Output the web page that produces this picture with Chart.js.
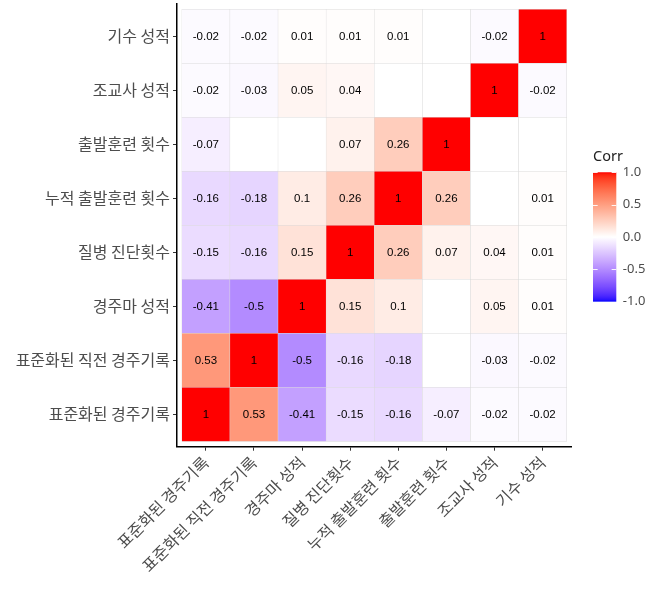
<!DOCTYPE html>
<html>
<head>
<meta charset="utf-8">
<script src="https://cdn.jsdelivr.net/npm/chart.js@4"></script>
<style>
  html, body { margin: 0; padding: 0; background: #fff; }
  #wrap { width: 646px; height: 592px; }
</style>
</head>
<body>
<div id="wrap"><canvas id="c" width="646" height="592"></canvas></div>
<script>
// Variables, in axis order (left to right on x, bottom to top on y)
const variables = [
  '표준화된 경주기록',
  '표준화된 직전 경주기록',
  '경주마 성적',
  '질병 진단횟수',
  '누적 출발훈련 횟수',
  '출발훈련 횟수',
  '조교사 성적',
  '기수 성적'
];

// Correlation rows (one per y variable); null = cell left blank
const rowStdRecord     = [1, 0.53, -0.41, -0.15, -0.16, -0.07, -0.02, -0.02];
const rowPrevStdRecord = [0.53, 1, -0.5, -0.16, -0.18, null, -0.03, -0.02];
const rowHorsePerf     = [-0.41, -0.5, 1, 0.15, 0.1, null, 0.05, 0.01];
const rowDiagnoses     = [-0.15, -0.16, 0.15, 1, 0.26, 0.07, 0.04, 0.01];
const rowCumTraining   = [-0.16, -0.18, 0.1, 0.26, 1, 0.26, null, 0.01];
const rowTraining      = [-0.07, null, null, 0.07, 0.26, 1, null, null];
const rowTrainerPerf   = [-0.02, -0.03, 0.05, 0.04, null, null, 1, -0.02];
const rowJockeyPerf    = [-0.02, -0.02, 0.01, 0.01, 0.01, null, -0.02, 1];

const corrRows = [rowStdRecord, rowPrevStdRecord, rowHorsePerf, rowDiagnoses,
                  rowCumTraining, rowTraining, rowTrainerPerf, rowJockeyPerf];

// Legend ticks of the colour bar
const legendTicks = [1.0, 0.5, 0.0, -0.5, -1.0];

// ---- diverging blue-white-red scale interpolated in CIE Lab ----
function toLin(c) { c /= 255; return c <= 0.04045 ? c / 12.92 : Math.pow((c + 0.055) / 1.055, 2.4); }
function fromLin(c) {
  c = c <= 0.0031308 ? 12.92 * c : 1.055 * Math.pow(c, 1 / 2.4) - 0.055;
  return Math.round(Math.max(0, Math.min(1, c)) * 255);
}
const Xn = 0.95047, Yn = 1.0, Zn = 1.08883;
function rgbToLab([r, g, b]) {
  r = toLin(r); g = toLin(g); b = toLin(b);
  const X = (0.4124564 * r + 0.3575761 * g + 0.1804375 * b) / Xn;
  const Y = (0.2126729 * r + 0.7151522 * g + 0.0721750 * b) / Yn;
  const Z = (0.0193339 * r + 0.1191920 * g + 0.9503041 * b) / Zn;
  const f = t => t > 0.008856 ? Math.cbrt(t) : 7.787 * t + 16 / 116;
  const fx = f(X), fy = f(Y), fz = f(Z);
  return [116 * fy - 16, 500 * (fx - fy), 200 * (fy - fz)];
}
function labToRgb([L, a, b]) {
  const fy = (L + 16) / 116, fx = fy + a / 500, fz = fy - b / 200;
  const inv = t => t * t * t > 0.008856 ? t * t * t : (t - 16 / 116) / 7.787;
  const X = inv(fx) * Xn, Y = inv(fy) * Yn, Z = inv(fz) * Zn;
  const r = 3.2404542 * X - 1.5371385 * Y - 0.4985314 * Z;
  const g = -0.9692660 * X + 1.8760108 * Y + 0.0415560 * Z;
  const bl = 0.0556434 * X - 0.2040259 * Y + 1.0572252 * Z;
  return [fromLin(r), fromLin(g), fromLin(bl)];
}
const LAB_LOW = rgbToLab([0, 0, 255]);
const LAB_MID = rgbToLab([255, 255, 255]);
const LAB_HIGH = rgbToLab([255, 0, 0]);
function corrColor(v) {
  if (v === null) return '#ffffff';
  const end = v >= 0 ? LAB_HIGH : LAB_LOW;
  const t = Math.min(1, Math.abs(v));
  const lab = LAB_MID.map((m, i) => m + (end[i] - m) * t);
  const [r, g, b] = labToRgb(lab);
  return `rgb(${r},${g},${b})`;
}

const axisFont = { family: "'Noto Sans CJK KR', 'Noto Sans', sans-serif", size: 16 };
const axisColor = '#4d4d4d';

// One floating-bar dataset per row: each tile spans [row-0.5, row+0.5]
const datasets = corrRows.map((vals, r) => ({
  label: variables[r],
  data: vals.map((v, c) => ({ x: c, y: [r - 0.5, r + 0.5] })),
  corr: vals,
  backgroundColor: vals.map(corrColor),
  borderColor: '#dadada',
  borderWidth: 0.5,
  borderSkipped: false,
  barPercentage: 1,
  categoryPercentage: 1,
  grouped: false
}));

// Prints the rounded coefficient in the middle of each tile
const cellLabels = {
  id: 'cellLabels',
  afterDatasetsDraw(chart) {
    const ctx = chart.ctx;
    ctx.save();
    ctx.font = "11.5px 'Liberation Sans', Arial, sans-serif";
    ctx.fillStyle = '#000';
    ctx.textAlign = 'center';
    ctx.textBaseline = 'middle';
    chart.data.datasets.forEach((ds, di) => {
      const meta = chart.getDatasetMeta(di);
      meta.data.forEach((el, i) => {
        const v = ds.corr[i];
        if (v === null) return;
        ctx.fillText(String(v), el.x, (el.y + el.base) / 2 + 0.5);
      });
    });
    ctx.restore();
  }
};

// Continuous colour bar legend at the right of the panel
const colorBar = {
  id: 'colorBar',
  afterDraw(chart) {
    const ca = chart.chartArea;
    const ctx = chart.ctx;
    const x0 = ca.right + 21.5, w = 23.3;
    const mid = (ca.top + ca.bottom) / 2 + 11.6;
    const top = mid - 64.7, bottom = mid + 64.7;
    const yOf = v => bottom - (v + 1) / 2 * (bottom - top);

    ctx.save();
    const grad = ctx.createLinearGradient(0, top, 0, bottom);
    for (let k = 0; k <= 60; k++) {
      const v = 1 - 2 * k / 60;
      grad.addColorStop(k / 60, corrColor(v));
    }
    ctx.fillStyle = grad;
    ctx.fillRect(x0, top, w, bottom - top);

    ctx.strokeStyle = 'rgba(255,255,255,0.9)';
    ctx.lineWidth = 1;
    legendTicks.forEach(v => {
      const y = Math.round(yOf(v)) + 0.5;
      ctx.beginPath();
      ctx.moveTo(x0, y); ctx.lineTo(x0 + w / 5, y);
      ctx.moveTo(x0 + w * 4 / 5, y); ctx.lineTo(x0 + w, y);
      ctx.stroke();
    });

    ctx.fillStyle = axisColor;
    ctx.font = "13px 'Noto Sans', sans-serif";
    ctx.textAlign = 'left';
    ctx.textBaseline = 'middle';
    legendTicks.forEach(v => ctx.fillText(v.toFixed(1), x0 + w + 6.5, yOf(v)));

    ctx.fillStyle = '#222';
    ctx.font = "14.5px 'Noto Sans', sans-serif";
    ctx.fillText('Corr', x0, top - 15.5);
    ctx.restore();
  }
};

const indexTicks = scale => { scale.ticks = variables.map((_, i) => ({ value: i })); };
// keep the panel edges fixed: labels may overhang into the margins
const clearPadding = s => { s.paddingTop = 0; s.paddingBottom = 0; s.paddingLeft = 0; s.paddingRight = 0; };

new Chart(document.getElementById('c'), {
  type: 'bar',
  data: { datasets },
  plugins: [cellLabels, colorBar],
  options: {
    responsive: false,
    animation: false,
    layout: { padding: { left: 0, top: 4, right: 74.5, bottom: 0 } },
    plugins: { legend: { display: false }, tooltip: { enabled: false } },
    scales: {
      x: {
        type: 'linear',
        min: -0.6, max: 7.6,
        offset: false,
        afterBuildTicks: indexTicks,
        afterFit: s => { s.height = 145.3; clearPadding(s); },
        ticks: {
          callback: v => variables[v],
          autoSkip: false,
          minRotation: 45, maxRotation: 45,
          padding: 2,
          font: axisFont, color: axisColor
        },
        grid: { offset: false, drawOnChartArea: false, tickLength: 4, color: '#333', lineWidth: 1 },
        border: { display: true, color: '#000', width: 1.5 }
      },
      y: {
        type: 'linear',
        min: -0.6, max: 7.6,
        beginAtZero: false,
        afterBuildTicks: indexTicks,
        afterFit: s => { s.width = 177; clearPadding(s); },
        ticks: {
          callback: v => variables[v],
          autoSkip: false,
          padding: 3,
          font: axisFont, color: axisColor
        },
        grid: { offset: false, drawOnChartArea: false, tickLength: 4, color: '#333', lineWidth: 1 },
        border: { display: true, color: '#000', width: 1.5 }
      }
    }
  }
});
</script>
</body>
</html>
